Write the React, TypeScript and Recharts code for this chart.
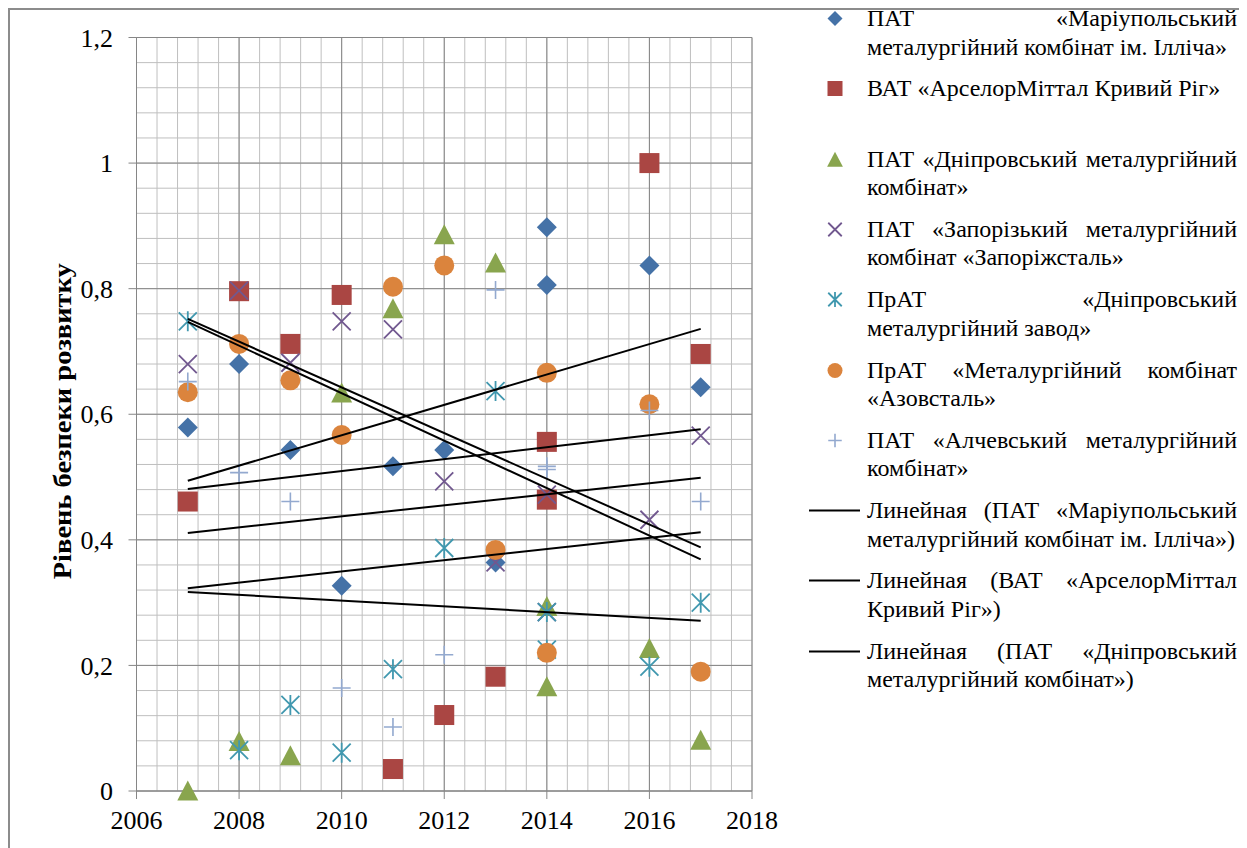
import React from "react";
import { CartesianGrid, Label, Legend, Scatter, ScatterChart, XAxis, YAxis } from "recharts";

// x positions of every point (the 2015 column was entered as 2014 in the source sheet)
const years = [2007, 2008, 2009, 2010, 2011, 2012, 2013, 2014, 2014, 2016, 2017];

const mariupol = [0.579, 0.68, 0.543, 0.327, 0.517, 0.543, 0.364, 0.898, 0.806, 0.837, 0.643];
const arcelor = [0.461, 0.796, 0.712, 0.79, 0.035, 0.121, 0.182, 0.556, 0.464, 1.0, 0.696];
const dniproCombine = [0, 0.079, 0.056, 0.634, 0.768, 0.886, 0.841, 0.294, 0.166, 0.227, 0.081];
const zaporizhstal = [0.68, 0.797, 0.682, 0.748, 0.735, 0.493, 0.364, 0.472, 0.285, 0.432, 0.566];
const dniproPlant = [0.748, 0.065, 0.137, 0.061, 0.194, 0.387, 0.637, 0.285, 0.225, 0.198, 0.3];
const azovstal = [0.635, 0.712, 0.654, 0.567, 0.803, 0.837, 0.384, 0.666, 0.22, 0.616, 0.19];
const alchevsk = [0.652, 0.507, 0.461, 0.164, 0.102, 0.217, 0.798, 0.517, 0.512, 0.606, 0.461];

// trend lines (start at 2007, end at 2017)
const trendYears = [2007, 2017];
const trendStart = [0.494, 0.481, 0.411, 0.323, 0.317, 0.752, 0.747];
const trendEnd = [0.736, 0.576, 0.499, 0.412, 0.271, 0.388, 0.369];

const xTicks = [2006, 2008, 2010, 2012, 2014, 2016, 2018];
const yTicks = [0, 0.2, 0.4, 0.6, 0.8, 1, 1.2];
const yTickLabels = ["0", "0,2", "0,4", "0,6", "0,8", "1", "1,2"];

const xMinor = Array.from({ length: 31 }, (_, i) => Math.round((2006 + i * 0.4) * 100) / 100);
const yMinor = Array.from({ length: 31 }, (_, i) => Math.round(i * 0.04 * 1000) / 1000);

type Kind = "diamond" | "square" | "triangle" | "x" | "star" | "circle" | "plus";

const series: { name: string; values: number[]; color: string; kind: Kind }[] = [
  { name: "mariupol", values: mariupol, color: "#4572A7", kind: "diamond" },
  { name: "arcelor", values: arcelor, color: "#AA4643", kind: "square" },
  { name: "dniproCombine", values: dniproCombine, color: "#89A54E", kind: "triangle" },
  { name: "zaporizhstal", values: zaporizhstal, color: "#71588F", kind: "x" },
  { name: "dniproPlant", values: dniproPlant, color: "#4198AF", kind: "star" },
  { name: "azovstal", values: azovstal, color: "#DB843D", kind: "circle" },
  { name: "alchevsk", values: alchevsk, color: "#93A9CF", kind: "plus" },
];

const legendItems: { kind: Kind | "line"; color: string; lines: string[] }[] = [
  { kind: "diamond", color: "#4572A7", lines: ["ПАТ «Маріупольський", "металургійний комбінат ім. Ілліча»"] },
  { kind: "square", color: "#AA4643", lines: ["ВАТ «АрселорМіттал Кривий Ріг»"] },
  { kind: "triangle", color: "#89A54E", lines: ["ПАТ «Дніпровський металургійний", "комбінат»"] },
  { kind: "x", color: "#71588F", lines: ["ПАТ «Запорізький металургійний", "комбінат «Запоріжсталь»"] },
  { kind: "star", color: "#4198AF", lines: ["ПрАТ «Дніпровський", "металургійний завод»"] },
  { kind: "circle", color: "#DB843D", lines: ["ПрАТ «Металургійний комбінат", "«Азовсталь»"] },
  { kind: "plus", color: "#93A9CF", lines: ["ПАТ «Алчевський металургійний", "комбінат»"] },
  { kind: "line", color: "#000", lines: ["Линейная (ПАТ «Маріупольський", "металургійний комбінат ім. Ілліча»)"] },
  { kind: "line", color: "#000", lines: ["Линейная (ВАТ «АрселорМіттал", "Кривий Ріг»)"] },
  { kind: "line", color: "#000", lines: ["Линейная (ПАТ «Дніпровський", "металургійний комбінат»)"] },
];

const font = "'Liberation Serif', 'Times New Roman', serif";
const majorGrid = "#868686";
const minorGrid = "#BFBFBF";

function Marker({ kind, color, cx, cy, s }: { kind: Kind; color: string; cx: number; cy: number; s: number }) {
  const a = s * 0.9;
  switch (kind) {
    case "diamond":
      return <polygon points={`${cx},${cy - s} ${cx + s},${cy} ${cx},${cy + s} ${cx - s},${cy}`} fill={color} />;
    case "square":
      return <rect x={cx - s} y={cy - s} width={s * 2} height={s * 2} fill={color} />;
    case "triangle":
      return (
        <polygon
          points={`${cx},${cy - s * 1.05} ${cx + s * 1.05},${cy + s * 0.95} ${cx - s * 1.05},${cy + s * 0.95}`}
          fill={color}
        />
      );
    case "circle":
      return <circle cx={cx} cy={cy} r={s} fill={color} />;
    case "x":
      return (
        <path
          d={`M${cx - a},${cy - a}L${cx + a},${cy + a}M${cx + a},${cy - a}L${cx - a},${cy + a}`}
          stroke={color}
          strokeWidth={1.8}
        />
      );
    case "star":
      return (
        <path
          d={`M${cx - a},${cy - a}L${cx + a},${cy + a}M${cx + a},${cy - a}L${cx - a},${cy + a}M${cx},${cy - s}L${cx},${cy + s}`}
          stroke={color}
          strokeWidth={1.8}
        />
      );
    case "plus":
      return (
        <path
          d={`M${cx - a},${cy}L${cx + a},${cy}M${cx},${cy - a}L${cx},${cy + a}`}
          stroke={color}
          strokeWidth={1.6}
        />
      );
  }
  return null;
}

function YTitle(props: any) {
  const vb = props.viewBox || { x: 0, y: 0, width: 0, height: 0 };
  const cx = vb.x + 52;
  const cy = vb.y + vb.height / 2 + 7;
  return (
    <text
      x={cx}
      y={cy}
      transform={`rotate(-90 ${cx} ${cy})`}
      textAnchor="middle"
      dominantBaseline="central"
      fontFamily={font}
      fontWeight="bold"
      fontSize={26}
      textLength={316}
      lengthAdjust="spacingAndGlyphs"
      fill="#000"
    >
      Рівень безпеки розвитку
    </text>
  );
}

function LegendBox() {
  return (
    <div style={{ position: "relative", width: 440, height: 720, fontFamily: font, fontSize: 24, color: "#000" }}>
      {legendItems.map((item, i) => (
        <div key={i} style={{ position: "absolute", left: 0, top: i * 70.3, width: 440, height: 58 }}>
          <svg width={62} height={29} style={{ position: "absolute", left: 0, top: 0 }}>
            {item.kind === "line" ? (
              <line x1={9} x2={60} y1={14.5} y2={14.5} stroke="#000" strokeWidth={2} />
            ) : (
              <Marker kind={item.kind} color={item.color} cx={35} cy={14.5} s={7.5} />
            )}
          </svg>
          <div style={{ position: "absolute", left: 67, top: 0, width: 370 }}>
            {item.lines.map((line, j) => {
              const last = j === item.lines.length - 1;
              return (
                <div
                  key={j}
                  style={{
                    height: 28.5,
                    lineHeight: "28.5px",
                    textAlign: "justify",
                    textAlignLast: last ? "left" : "justify",
                    whiteSpace: last ? "nowrap" : "normal",
                  }}
                >
                  {line}
                </div>
              );
            })}
          </div>
        </div>
      ))}
    </div>
  );
}

export default function App() {
  return (
    <div
      style={{
        position: "relative",
        width: 1234,
        height: 845,
        border: "2px solid #8c8c8c",
        boxSizing: "border-box",
        background: "#fff",
      }}
    >
      <ScatterChart width={1230} height={835} margin={{ top: 27.5, right: 488, left: 0, bottom: 14 }}>
        <CartesianGrid horizontalValues={yMinor} verticalValues={xMinor} stroke={minorGrid} strokeWidth={1} />
        <CartesianGrid horizontalValues={yTicks} verticalValues={xTicks} stroke={majorGrid} strokeWidth={1} />
        <XAxis
          type="number"
          dataKey="x"
          domain={[2006, 2018]}
          ticks={xTicks}
          interval={0}
          height={40}
          tickSize={8}
          tickMargin={12}
          tick={{ fontFamily: font, fontSize: 26, fill: "#000" }}
          stroke={majorGrid}
        />
        <YAxis
          type="number"
          dataKey="y"
          domain={[0, 1.2]}
          ticks={yTicks}
          interval={0}
          width={126.5}
          tickSize={8}
          tickMargin={15.5}
          tickFormatter={(v: number) => yTickLabels[yTicks.indexOf(v)] ?? String(v)}
          tick={{ fontFamily: font, fontSize: 26, fill: "#000" }}
          stroke={majorGrid}
        >
          <Label content={YTitle} />
        </YAxis>
        {series.map((s) => (
          <Scatter
            key={s.name}
            name={s.name}
            data={years.map((x, i) => ({ x, y: s.values[i] }))}
            isAnimationActive={false}
            shape={(p: any) => <Marker kind={s.kind} color={s.color} cx={p.cx} cy={p.cy} s={10} />}
          />
        ))}
        {trendStart.map((v, i) => (
          <Scatter
            key={"trend" + i}
            data={[
              { x: trendYears[0], y: v },
              { x: trendYears[1], y: trendEnd[i] },
            ]}
            line={{ stroke: "#000", strokeWidth: 2 }}
            shape={() => <g />}
            isAnimationActive={false}
            legendType="none"
          />
        ))}
        <Legend
          layout="horizontal"
          verticalAlign="middle"
          align="center"
          content={() => <LegendBox />}
          wrapperStyle={{ left: 790, top: -6, width: 440, height: 720 }}
        />
      </ScatterChart>
    </div>
  );
}
